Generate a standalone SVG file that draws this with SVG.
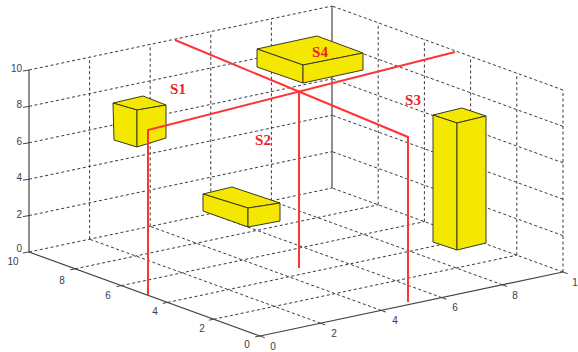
<svg xmlns="http://www.w3.org/2000/svg" width="578" height="352" viewBox="0 0 578 352">
  <style>
    .grid { stroke: #3a3a3a; stroke-width: 1; stroke-dasharray: 3 2.5; fill: none; }
    .axis { stroke: #444; stroke-width: 1.2; fill: none; }
    .tick { stroke: #444; stroke-width: 1; }
    .tl { font-family: "Liberation Sans", Arial, sans-serif; font-size: 10px; fill: #3c3c48; }
    .box { fill: #f5e800; stroke: #3a3a20; stroke-width: 1; stroke-linejoin: round; }
    .path { stroke: #ff3333; stroke-width: 2; fill: none; stroke-linejoin: miter; }
    .lbl { font-family: "Liberation Serif", "Times New Roman", serif; font-size: 15px; font-weight: bold; fill: #ee2222; text-anchor: middle; }
  </style>
  <rect width="578" height="352" fill="#ffffff"/>

  <!-- 3D axes: origin (0,0,0) at (260,336); x to (563,272), y to (29,252), z up 18.2 px/unit -->
  <g id="axes">
    <!-- back wall y=10 -->
    <g class="grid">
      <line x1="29" y1="215.6" x2="332" y2="151.6"/>
      <line x1="29" y1="179.2" x2="332" y2="115.2"/>
      <line x1="29" y1="142.8" x2="332" y2="78.8"/>
      <line x1="29" y1="106.4" x2="332" y2="42.4"/>
      <line x1="29" y1="70" x2="332" y2="6"/>
      <line x1="89.6" y1="239.2" x2="89.6" y2="57.2"/>
      <line x1="150.2" y1="226.4" x2="150.2" y2="44.4"/>
      <line x1="210.8" y1="213.6" x2="210.8" y2="31.6"/>
      <line x1="271.4" y1="200.8" x2="271.4" y2="18.8"/>
    </g>
    <!-- back wall x=10 -->
    <g class="grid">
      <line x1="563" y1="235.6" x2="332" y2="151.6"/>
      <line x1="563" y1="199.2" x2="332" y2="115.2"/>
      <line x1="563" y1="162.8" x2="332" y2="78.8"/>
      <line x1="563" y1="126.4" x2="332" y2="42.4"/>
      <line x1="563" y1="90" x2="332" y2="6"/>
      <line x1="563" y1="272" x2="563" y2="90"/>
      <line x1="516.8" y1="255.2" x2="516.8" y2="73.2"/>
      <line x1="470.6" y1="238.4" x2="470.6" y2="56.4"/>
      <line x1="424.4" y1="221.6" x2="424.4" y2="39.6"/>
      <line x1="378.2" y1="204.8" x2="378.2" y2="22.8"/>
    </g>
    <!-- floor z=0 -->
    <g class="grid">
      <line x1="213.8" y1="319.2" x2="516.8" y2="255.2"/>
      <line x1="167.6" y1="302.4" x2="470.6" y2="238.4"/>
      <line x1="121.4" y1="285.6" x2="424.4" y2="221.6"/>
      <line x1="75.2" y1="268.8" x2="378.2" y2="204.8"/>
      <line x1="29" y1="252" x2="332" y2="188"/>
      <line x1="320.6" y1="323.2" x2="89.6" y2="239.2"/>
      <line x1="381.2" y1="310.4" x2="150.2" y2="226.4"/>
      <line x1="441.8" y1="297.6" x2="210.8" y2="213.6"/>
      <line x1="502.4" y1="284.8" x2="271.4" y2="200.8"/>
      <line x1="563" y1="272" x2="332" y2="188"/>
    </g>
    <!-- solid axis lines -->
    <line class="axis" x1="332" y1="188" x2="332" y2="6" stroke="#777"/>
    <line class="axis" x1="260" y1="336" x2="563" y2="272"/>
    <line class="axis" x1="260" y1="336" x2="29" y2="252"/>
    <line class="axis" x1="29" y1="252" x2="29" y2="70"/>
    <!-- ticks -->
    <g class="tick">
      <line x1="29" y1="70" x2="23" y2="71"/>
      <line x1="29" y1="106.4" x2="23" y2="107.4"/>
      <line x1="29" y1="142.8" x2="23" y2="143.8"/>
      <line x1="29" y1="179.2" x2="23" y2="180.2"/>
      <line x1="29" y1="215.6" x2="23" y2="216.6"/>
      <line x1="29" y1="252" x2="23" y2="253"/>
      <line x1="75.2" y1="268.8" x2="70.3" y2="269.8"/>
      <line x1="121.4" y1="285.6" x2="116.5" y2="286.6"/>
      <line x1="167.6" y1="302.4" x2="162.7" y2="303.4"/>
      <line x1="213.8" y1="319.2" x2="208.9" y2="320.2"/>
      <line x1="260" y1="336" x2="255.1" y2="337"/>
      <line x1="260" y1="336" x2="264.7" y2="337.7"/>
      <line x1="320.6" y1="323.2" x2="325.3" y2="324.9"/>
      <line x1="381.2" y1="310.4" x2="385.9" y2="312.1"/>
      <line x1="441.8" y1="297.6" x2="446.5" y2="299.3"/>
      <line x1="502.4" y1="284.8" x2="507.1" y2="286.5"/>
      <line x1="563" y1="272" x2="567.7" y2="273.7"/>
    </g>
    <!-- tick labels -->
    <g class="tl" text-anchor="end">
      <text x="22" y="72">10</text>
      <text x="22" y="108">8</text>
      <text x="22" y="145">6</text>
      <text x="22" y="181">4</text>
      <text x="22" y="218">2</text>
      <text x="22" y="252">0</text>
    </g>
    <g class="tl" text-anchor="middle">
      <text x="13" y="265">10</text>
      <text x="62" y="284">8</text>
      <text x="108" y="299">6</text>
      <text x="155" y="315">4</text>
      <text x="202" y="332">2</text>
      <text x="247" y="348">0</text>
      <text x="273" y="350">0</text>
      <text x="334" y="337">2</text>
      <text x="395" y="324">4</text>
      <text x="455" y="311">6</text>
      <text x="515" y="299">8</text>
      <text x="575" y="286">1</text>
    </g>
  </g>

  <!-- blocks -->
  <g id="block-floor">
    <polygon class="box" points="203,194 232,187 280,203 248,208"/>
    <polygon class="box" points="203,194 248,208 248,227 203,211"/>
    <polygon class="box" points="248,208 280,203 280,221 248,227"/>
  </g>
  <g id="s1">
    <polygon class="box" points="113,103 143,96 166,105 137,110"/>
    <polygon class="box" points="113,103 137,110 137,147 114,140"/>
    <polygon class="box" points="137,110 166,105 166,138 137,147"/>
  </g>
  <g id="s4">
    <polygon class="box" points="257,49 317,36 363,53 303,65"/>
    <polygon class="box" points="257,49 303,65 303,83 257,67"/>
    <polygon class="box" points="303,65 363,53 363,70 303,83"/>
  </g>
  <g id="s3">
    <polygon class="box" points="433,115 462,108 486,116 457,123"/>
    <polygon class="box" points="433,115 457,123 457,250 433,242"/>
    <polygon class="box" points="457,123 486,116 486,243 457,250"/>
  </g>

  <!-- red paths -->
  <g id="connectors">
    <polyline class="path" points="148,295 148,130 455,52"/>
    <polyline class="path" points="175,40 408,137 408,302"/>
    <line class="path" x1="299" y1="91.6" x2="299" y2="268"/>
  </g>

  <!-- labels -->
  <g id="labels">
    <text class="lbl" x="178" y="94">S1</text>
    <text class="lbl" x="263" y="145">S2</text>
    <text class="lbl" x="413" y="105">S3</text>
    <text class="lbl" x="320" y="57">S4</text>
  </g>
</svg>
